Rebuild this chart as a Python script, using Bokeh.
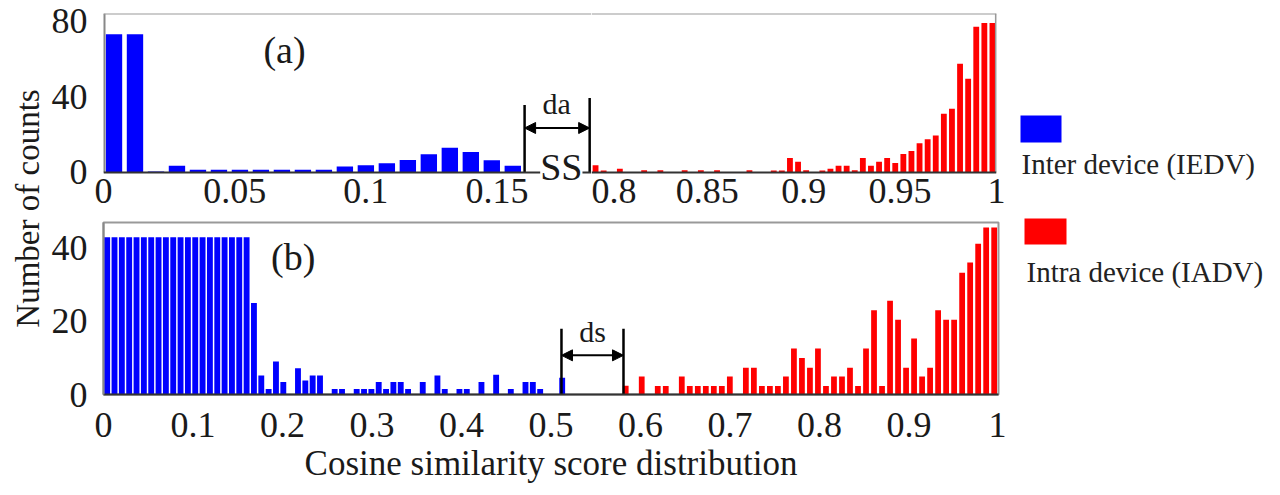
import numpy as np
from bokeh.plotting import figure
from bokeh.layouts import row, column
from bokeh.models import (Range1d, FixedTicker, NumeralTickFormatter, Label,
                          Arrow, NormalHead, Span)
from bokeh.core.properties import value
from bokeh.embed import file_html
from bokeh.resources import INLINE

FONT = "Liberation Serif"
BLUE = "#0000FF"
RED = "#FF0000"

# ---------------- data ----------------
series_names = ["Inter device (IEDV)", "Intra device (IADV)"]

# panel (a) - broken x axis
a_inter_start = 0.0
a_inter_bin_width = 0.008
a_inter_counts = [73, 73, 0.5, 3.5, 1.5, 1.5, 1.5, 1.5, 1.5, 1.5,
                  1.5, 3.1, 3.8, 4.9, 6.6, 9.6, 13, 10.8, 6.5, 3.5]
a_intra_start = 0.79
a_intra_bin_width = 0.0042
a_intra_counts = [3.8, 1, 0, 2, 0, 0, 1.2, 0, 1.2, 0,
                  0, 1.2, 0, 1.2, 0, 1.2, 0, 0, 0, 1.2,
                  0, 0, 1, 1, 7.7, 5.6, 1.2, 0, 1, 2,
                  3.5, 3.5, 1.2, 7.7, 3.5, 5.6, 7.7, 5, 9.7, 11.4,
                  15.4, 17.5, 19.6, 31, 33.7, 57.5, 49.5, 77, 79, 79]
a_left_ticks = [0, 0.05, 0.1, 0.15]
a_right_ticks = [0.8, 0.85, 0.9, 0.95, 1.0]
a_y_ticks = [0, 40, 80]

# panel (b)
b_inter_start = 0.0
b_inter_bin_width = 0.0082
b_inter_counts = [43, 43, 43, 43, 43, 43, 43, 43, 43, 43,
                  43, 43, 43, 43, 43, 43, 43, 43, 43, 43,
                  25, 5.2, 1.5, 9.0, 3.4, 0, 7.2, 3.8, 5.2, 5.2,
                  0, 1.5, 1.5, 0, 1.5, 1.5, 1.5, 3.4, 1.5, 3.4,
                  3.4, 1.5, 0, 3.4, 0, 5.2, 1.5, 0, 1.5, 1.5,
                  0, 3.4, 0, 5.4, 0, 1.5, 0, 3.4, 3.4, 1.5,
                  0, 0, 4.6]
b_intra_start = 0.579
b_intra_bin_width = 0.00895
b_intra_counts = [2.4, 0, 4.9, 0, 2.3, 2.3, 0, 4.9, 2.3, 2.3,
                  2.3, 2.3, 2.3, 4.9, 0, 7.3, 7.3, 2.3, 2.3, 2.3,
                  4.9, 12.6, 10, 7.3, 12.6, 2.3, 4.9, 4.9, 7.3, 2.3,
                  12.6, 23, 2.3, 25.6, 20.4, 7.3, 15.3, 4.9, 7.3, 23,
                  20.4, 20.4, 33.3, 36.1, 41.2, 45.6, 45.6]
b_x_ticks = [0, 0.1, 0.2, 0.3, 0.4, 0.5, 0.6, 0.7, 0.8, 0.9, 1.0]
b_y_ticks = [0, 20, 40]


def centers(start, width, counts):
    return start + width * (np.arange(len(counts)) + 0.5)


TICK_SIZE = "36px"


def style(p, xticks, fmt, yticks=None):
    p.grid.visible = False
    for ax in p.xaxis:
        ax.ticker = FixedTicker(ticks=xticks)
        ax.formatter = NumeralTickFormatter(format=fmt)
        ax.major_label_text_font = FONT
        ax.major_label_text_font_size = TICK_SIZE
        ax.major_label_text_color = "#1a1a1a"
        ax.major_tick_line_color = None
        ax.minor_tick_line_color = None
        ax.axis_line_color = "#333333"
        ax.axis_line_width = 2
        ax.major_label_standoff = 0
    for ax in p.yaxis:
        ax.ticker = FixedTicker(ticks=yticks)
        ax.major_label_text_font = FONT
        ax.major_label_text_font_size = TICK_SIZE
        ax.major_label_text_color = "#1a1a1a"
        ax.major_tick_line_color = None
        ax.minor_tick_line_color = None
        ax.axis_line_color = "#888888"
        ax.axis_line_width = 2
        ax.major_label_standoff = 10


common = dict(toolbar_location=None, output_backend="svg",
              background_fill_color="white", border_fill_color="white")

TOTAL_H = 492
A_YMIN = -5.3   # frame reaches a little below the baseline to leave room for the axis-break mark
A_YMAX = 84

# ---------------- panel (a) left ----------------
a_left = figure(frame_width=488, frame_height=169,
                x_range=Range1d(0, 0.186), y_range=Range1d(A_YMIN, A_YMAX),
                min_border_left=52, min_border_right=0, min_border_top=13,
                min_border_bottom=35, outline_line_color=None, **common)
a_left.vbar(x=centers(a_inter_start, a_inter_bin_width, a_inter_counts),
            width=a_inter_bin_width * 0.78, top=a_inter_counts, bottom=0,
            fill_color=BLUE, line_color=None)
style(a_left, a_left_ticks, "0.[00]", a_y_ticks)
a_left.xaxis.axis_line_color = None
a_left.yaxis.axis_line_color = None
a_left.xaxis.major_label_standoff = -10
a_left.add_layout(Span(location=A_YMAX, dimension="width", line_color="#999999", line_width=2))
a_left.add_layout(Span(location=0, dimension="width", line_color="#333333", line_width=2))
a_left.segment(x0=[0], y0=[0], x1=[0], y1=[A_YMAX], line_color="#888888", line_width=4)

# da annotation
a_left.segment(x0=[0.1605, 0.1853], y0=[0, 0], x1=[0.1605, 0.1853], y1=[35.7, 39.4],
               line_color="black", line_width=2.5)
a_left.add_layout(Arrow(start=NormalHead(size=11, fill_color="black", line_color="black"),
                        end=NormalHead(size=11, fill_color="black", line_color="black"),
                        x_start=0.1605, y_start=23.5, x_end=0.1853, y_end=23.5,
                        line_width=2, line_color="black"))
a_left.add_layout(Label(x=0.1727, y=36.5, text="da", text_font=FONT, text_font_size="30px",
                        text_align="center", text_baseline="middle", text_color="#1a1a1a"))
a_left.add_layout(Label(x=0.1745, y=3.0, text="SS", text_font=FONT, text_font_size="38px",
                        text_align="center", text_baseline="middle", text_color="#1a1a1a",
                        background_fill_color="white"))
a_left.add_layout(Label(x=0.069, y=64.7, text="(a)", text_font=FONT, text_font_size="38px",
                        text_align="center", text_baseline="middle", text_color="#1a1a1a"))

# ---------------- panel (a) right ----------------
a_right = figure(frame_width=405, frame_height=169,
                 x_range=Range1d(0.79, 1.0), y_range=Range1d(A_YMIN, A_YMAX),
                 y_axis_location=None,
                 min_border_left=0, min_border_right=10, min_border_top=13,
                 min_border_bottom=35, outline_line_color=None, **common)
a_right.vbar(x=centers(a_intra_start, a_intra_bin_width, a_intra_counts),
             width=a_intra_bin_width * 0.72, top=a_intra_counts, bottom=0,
             fill_color=RED, line_color=None)
style(a_right, a_right_ticks, "0.[00]")
a_right.xaxis.axis_line_color = None
a_right.xaxis.major_label_standoff = -10
a_right.add_layout(Span(location=A_YMAX, dimension="width", line_color="#999999", line_width=2))
a_right.add_layout(Span(location=0, dimension="width", line_color="#333333", line_width=2))
a_right.segment(x0=[0.9997], y0=[0], x1=[0.9997], y1=[A_YMAX], line_color="#999999", line_width=2)

# ---------------- panel (b) ----------------
b = figure(frame_width=895, frame_height=172,
           x_range=Range1d(0, 1), y_range=Range1d(0, 47),
           min_border_left=52, min_border_right=8, min_border_top=5,
           min_border_bottom=88, outline_line_color="#999999", outline_line_width=2,
           **common)
b.vbar(x=centers(b_inter_start, b_inter_bin_width, b_inter_counts),
       width=b_inter_bin_width * 0.8, top=b_inter_counts, bottom=0,
       fill_color=BLUE, line_color=None)
b.vbar(x=centers(b_intra_start, b_intra_bin_width, b_intra_counts),
       width=b_intra_bin_width * 0.72, top=b_intra_counts, bottom=0,
       fill_color=RED, line_color=None)
style(b, b_x_ticks, "0.[0]", b_y_ticks)
b.xaxis.axis_label = "Cosine similarity score distribution"
b.xaxis.axis_label_text_font = FONT
b.xaxis.axis_label_text_font_size = "35px"
b.xaxis.axis_label_text_font_style = "normal"
b.xaxis.axis_label_text_color = "#1a1a1a"
b.xaxis.axis_label_standoff = 4
b.xaxis.major_label_standoff = 12

# ds annotation
b.segment(x0=[0.5117, 0.581], y0=[0, 0], x1=[0.5117, 0.581], y1=[18, 18],
          line_color="black", line_width=2.5)
b.add_layout(Arrow(start=NormalHead(size=11, fill_color="black", line_color="black"),
                   end=NormalHead(size=11, fill_color="black", line_color="black"),
                   x_start=0.5117, y_start=10.7, x_end=0.581, y_end=10.7,
                   line_width=2, line_color="black"))
b.add_layout(Label(x=0.5465, y=17.2, text="ds", text_font=FONT, text_font_size="30px",
                   text_align="center", text_baseline="middle", text_color="#1a1a1a"))
b.add_layout(Label(x=0.212, y=37.7, text="(b)", text_font=FONT, text_font_size="38px",
                   text_align="center", text_baseline="middle", text_color="#1a1a1a"))

# ---------------- y label column ----------------
ylab = figure(width=48, height=TOTAL_H, x_range=Range1d(0, 48), y_range=Range1d(TOTAL_H, 0),
              x_axis_location=None, y_axis_location=None, min_border=0,
              outline_line_color=None, **common)
ylab.grid.visible = False
ylab.text(x=[27], y=[208], text=["Number of counts"], angle=np.pi / 2,
          text_align="center", text_baseline="middle",
          text_font=value(FONT), text_font_size=value("33px"), text_color="#1a1a1a")

# ---------------- legend column ----------------
leg = figure(width=265, height=TOTAL_H, x_range=Range1d(1003, 1268), y_range=Range1d(TOTAL_H, 0),
             x_axis_location=None, y_axis_location=None, min_border=0,
             outline_line_color=None, **common)
leg.grid.visible = False
leg.rect(x=[1037.5, 1042], y=[128.5, 231], width=[41, 42], height=[27, 26],
         fill_color=[BLUE, RED], line_color=None)
leg.text(x=[1018, 1023], y=[163, 271], text=series_names,
         text_align="left", text_baseline="middle",
         text_font=value(FONT), text_font_size=value("29px"), text_color="#222222")

layout = row(ylab, column(row(a_left, a_right), b), leg)

open("out.html", "w").write(file_html(layout, INLINE))
